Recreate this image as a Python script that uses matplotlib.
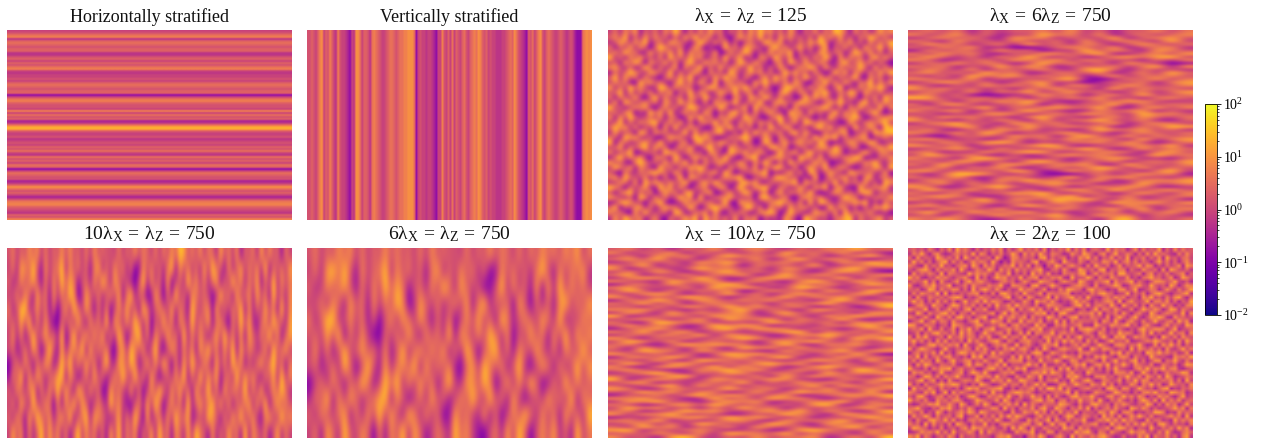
import numpy as np
import matplotlib
matplotlib.use("Agg")
import matplotlib.pyplot as plt
from matplotlib.cm import ScalarMappable
from matplotlib.colors import LogNorm, Normalize
from matplotlib.ticker import LogLocator, NullFormatter

plt.rcParams['font.family'] = ['Liberation Serif', 'DejaVu Serif']
plt.rcParams['mathtext.fontset'] = 'custom'
plt.rcParams['mathtext.rm'] = 'Liberation Serif'
plt.rcParams['mathtext.it'] = 'Liberation Serif'
plt.rcParams['mathtext.bf'] = 'Liberation Serif'

# log10 value of each digit used in the estimated grids below
LEVELS = [-1.1, -0.75, -0.4, -0.1, 0.15, 0.4, 0.65, 0.9, 1.2, 1.6]
LEVELS_BANDS = [-0.8, -0.5, -0.25, -0.05, 0.15, 0.35, 0.55, 0.75, 0.95, 1.25]
LEVELS_FINE = [-0.7, -0.4, -0.2, 0.0, 0.15, 0.3, 0.45, 0.65, 0.85, 1.1]

titles = ['Horizontally stratified', 'Vertically stratified',
          r'$\mathrm{\lambda_X\,=\,\lambda_Z\,=\,125}$',
          r'$\mathrm{\lambda_X\,=\,6\lambda_Z\,=\,750}$',
          r'$\mathrm{10\lambda_X\,=\,\lambda_Z\,=\,750}$',
          r'$\mathrm{6\lambda_X\,=\,\lambda_Z\,=\,750}$',
          r'$\mathrm{\lambda_X\,=\,10\lambda_Z\,=\,750}$',
          r'$\mathrm{\lambda_X\,=\,2\lambda_Z\,=\,100}$']

horizontal_bands = ("3467256545" "5224535467" "3233435654" "5503675443"
                    "7364512699" "5334234354" "6326453650" "3654412586"
                    "4531367754" "32547")
vertical_bands = ("4454357835" "4753274332" "1032886355" "4267654334"
                  "5665456677" "8886034332" "3321033743" "5363543564"
                  "3567687545" "3433222334" "5658643210" "5463578435"
                  "6543345432" "343100067878")

panel_3 = [
"362748153627495162738461537284957362841537264985173624857",
"574916283745162849375162048573926184735261947382516497362",
"248637591462875314962738150463297581426385971364825173649",
"615382740597346128503019462875316947258361490537261845927",
"473956128364829175642801735961428375906142873561497382615",
"926174835271946385714629358140762953814627395082746159384",
"351849607538271694285736149628430571962843751269358471620",
"784261395162480735916283574393615284037596184273649518273",
"163597428743916258407351962485726139584617302948175263849",
"592846173205738491362849571630482957163952847163592074613",
"374610958462159372841905736218594637285106493728416592738",
"826395741398274651259734685946172038956273841590327486951",
"459182637164805392761486392570834169427518693264971853624",
"617438205927346185394261075186395272401948573182640537196",
"280963574618529473160857492364912786359762148594317926485",
"935147682047361598427396125809473615082436795160748352917",
"462780319582914736185042793617258430967183524927581469302",
"718395246371650284936175842965103792584620319436795024678",
"349162758924738160574928316482756193471985762301842675793",
"596827143608192475301684927350619428605317948265193485098",
"283450971765324918264793150829473561792840163578024619789",
"641978325104876239785102648961385074135629487916357802463",
"907523684392415706936487251740296158368472950124863597124",
"358164792856037482179350864263518947024516783952471036859",
"724690135419862573408621975836740293681593427860315942673",
"169375820673195048562739410589126875309762814537698021547",
"845207963528374916073586248417395061946238570124853769326",
"396481752094616387951240736728064983170585392476102548719",
"510732648975284163746819502356790214827096148531976463280",
"682954371406129087325047689103462897451309027368250781564",
"237618095863745921684952317968215436790864253917463825097",
"974063582195827304571386049427893165238417690582109346782",
"415892637048561792368014725961470582657392014863527981453",
"863250971736249580912567843350896247104865732149760235648",
"128974305692013847456239108764135896527091983254687914073",
"590437826158762394038975412893607451846725019376140528796",
"746108293345098125671820536412789603954138762809365472130",
"283965714720634859194736281657042318620975341568917346825",
]

panel_4 = [
"46371625473826154736",
"73582614395728146357",
"25746318672543915684",
"64183527436182574293",
"38562471936275148536",
"52748130025763814672",
"17365284603294751864",
"63847215387469125738",
"48526173942613785893",
"75134628658275341627",
"26483751394726185301",
"64715293861354726918",
"37528164473289516342",
"58362947126548137295",
"42619578364713826574",
"76348152537910264836",
"25873614682402537168",
"63152847391762485347",
"84736251648351927463",
"36528174925836147258",
"57261012384615729346",
"98345627163748251674",
"24617385942136587423",
"61783245806254917365",
"47235916378649215837",
"73681524953127468152",
"35142786247386529674",
"62857341693415728536",
"84316275182569437215",
"26793518647234815763",
"53478162935748126498",
"47216385724139658362",
"75382961436825147536",
"31054628571694382745",
"68425137263847519268",
"42753896142567384136",
"86371524698213567492",
"24685173437596128375",
"57132846982346751684",
"39647215136857423956",
"73518964325146872315",
"46287351894263715648",
"62943178537682194537",
"35716482146359728264",
"78264539612847351693",
"41599732610036248571",
"63482157324917683425",
"27635184957248136768",
"54817362478561329457",
"86124795236137486213",
"39548261614872953684",
"62371548793265148527",
"47863125485916372356",
"73526917649794283461",
"25184736328541967838",
"68437215963724185264",
"41765382147636829157",
"59328647825143716483",
"36172584469328571642",
"74863125637451892536",
]

panel_5 = [
"4635475736354747453637454436354746536364759846473652846371546283745163",
"3628759417356927463516825374625017463526917463528396417258364729154638",
"5237468416273958614527396285341049273518035294736268153947264815392746",
"3462751846173649702853624738169253018405293517645302946183572846193527",
"6249924736150472963841526037483519624753826419536718253649172538461927",
"4538491627300536284174629185374962704384617529364815720639482157396428",
"3726149358462904925837481629504792617538461926374158394627185364927158",
"4513628503941826759183647105839647159203852637185946273918465237194683",
"0362741548613959273846159328749613827495061839527418362957142683794516",
"1649173852468917503628451374952946183025374916293758146293857316482937",
"5274368162749384196273501846328150374962748361834926183754926381475962",
"3618529437506174928513642957310462839504736192584693827154682739158464",
"5274183964725839146928753148263950814627395681243975162849357216843957",
"3847162593847261593746251839264715382946175283964172538461927536148263",
]

panel_6 = [
"4635475736354746453637454436354746536364756475836",
"3628959417356927463516825374625017463526941736582",
"5237468416273958614527396285340149273518082937463",
"3462751846173649702853624738169253608405251793648",
"6259924736150472863841526037483519624753862914375",
"4538490627300536284174629185374962704384617392847",
"3726149358462714925837481629504792617538426175394",
"4513629503941826759183647105839647159203861724938",
"0362741549613969273846159328749603827495016293745",
"2649173852468917503628451374952946183025384629175",
"5274368162749384196273501846328150374962736184529",
"3618529437506174928513642957310462839504748251936",
]

panel_7 = [
"47261638257426375946",
"72548163527194638251",
"36185724956382714693",
"58392617438159276304",
"24736185926473518496",
"63915274807362914578",
"81462395736185247923",
"37285146936274158630",
"59143726581493672458",
"26874395126875439172",
"74319568247316952864",
"15628437961528473396",
"68342719586239741625",
"39517264803746185297",
"52786143927158643781",
"84263975146392758416",
"17495286374825169343",
"63928147536174692578",
"45172863948357126039",
"76834152692641873524",
"28519374681493526187",
"91346528773265184965",
"35762481956817439212",
"62198573342956371848",
"48375129687134265793",
"15684237938762541476",
"73926815423589174628",
"26457391864127695383",
"84163725597346281959",
"39728146351685943726",
"57214968762493175834",
"61835274196728346415",
"42976185342183659278",
"85362714978546172930",
"17649523682791438465",
"64283197546324875192",
"39517842637958146327",
"72168539284613795546",
"58431276958237461983",
"24795163872564193768",
"63248915437192856324",
"91576328654873216549",
"37814256391628475183",
"52469183726354918637",
"86127534945716382476",
"43958276138249675291",
"15372694863581247859",
"76845129372967314526",
"28693415858134769173",
"64127839546252891367",
"39582617294716354682",
"57134968336849275139",
"82769345125396418746",
"14256783968527143695",
"67391524773184659238",
"35827196442973186574",
"52948163718536247916",
"89163574235128964375",
"46375281976492735184",
"73518942638365814729",
]

panel_8 = [
"463527416382957416253748162593647281536492738156429375614827354916283745",
"275941683125746392861537249618473952764128539741682593475162839564217384",
"618354297463819527346195028736451892635714286937154826391547263819452673",
"394726158927361485762940318564279136841953274165387492683726415937261584",
"752183649341578296184723659273816405397268541729536148254693871426358197",
"426895173658294137539618472846357921562841397362891547716328546181974362",
"183647529176432958674285391526194738231756489148365729943571682537246815",
"957214386742568319261497835392678154768219345961742853382416795625813974",
"364592718325816947853126746148523976415864297326579184579263148874693251",
"821476935691347285437569218764189325963125786418235697126784395352961487",
"546139827458726193796384152395762481327498651795641328835912476148527369",
"273865491914253678142718963629435817656781324274896513492637158963145792",
"618327546368971425865243791471862359183579462932157486724518693527389416",
"495716283726149358394875126238519674841326957415368729168435927748261539",
"137842965159836472617294583956427138765214893826753941953726184395614278",
"864591372483527916582163479173694825294687135149276385237149658614982753",
"329617458947165283436815927625348791518942376683915472841573296257643918",
"752483196372894615791249368468173529736158924375428169526931487972185634",
"146925837628431579254976183293764815392817465547186293168427359436729581",
"983276514519763248823548716846329571175834682219643875793516842158364297",
"465819327248175936167923584751486923643529178985371426314279568872591346",
"237164895637294851495367281382917645926746315741862539675148392524936718",
"718593246194583762748215936639254178458172693362594187923867415196372854",
"594726183825361947326894175167843529273958461837126945481235769743618295",
"361248957476819325951476832925731486691425738524963178736594128285947163",
"826975314932547618483152769378416295137864592196387524519286473618325947",
"157364829251698473672938541546279813864523176753241869274351986957462381",
"649182573783425196915764328293815647325976481428695317861743295342186759",
"372856194169347825384259167781642935596138724674182593537926148816594273",
"518497326547216938726583914436957182243715869137849265952864371275361498",
"943261758892573461158946273869124576718492635582617394321685947694782135",
"286735149324681597493125768215378694975268341964325187748139526137456982",
"651498372756942318867394521742863915346187952317784526595472863829613475",
"437926815183257649512867394398541726682419537951276348164938725465827193",
"825173469679834152974125836627359481127835964286493715238617594713964528",
"194638527342516978346789215154682739959273146743518962872496351589132647",
"763285914918475326682934157986741352465691823138652497341527869452986713",
"528941367264713895127568493273495618273148956694227835957386142867315924",
"946372185637851249753482961541268937816725394572931648425169738193748256",
"312658794485296137396127584819374265549863172389646175863254971628571493",
"679421538794263851245871936165482793297516483916257384319748625234695817",
"853714296153684972974356218238659471728364915442873961786132549971328465",
"284596173562791348163728495974215836461598237635194728148596372346857192",
"517328964938241675846395127621847359184273659214769583957421836623194758",
"746192835271974163392416875358726914937815426578231946273849561895263417",
"398651427145268397755732619496183275352967184623458179846154293264739581",
"124867593729345861928546312857691428715342968941762853159678342739412685",
"869275146386173452543168793230574961268419375475896312623285917548361792",
]


def decode(rows, levels):
    n = min(len(r) for r in rows)
    return np.array([[levels[int(c)] for c in r[:n]] for r in rows])


panels = [(decode(list(horizontal_bands), LEVELS_BANDS), 'bilinear'),
          (decode([vertical_bands], LEVELS_BANDS), 'bilinear'),
          (decode(panel_3, LEVELS), 'bicubic'), (decode(panel_4, LEVELS), 'bicubic'),
          (decode(panel_5, LEVELS), 'bicubic'), (decode(panel_6, LEVELS), 'bicubic'),
          (decode(panel_7, LEVELS), 'bicubic'), (decode(panel_8, LEVELS_FINE), 'bilinear')]

W, H = 1261, 441
fig = plt.figure(figsize=(W / 100, H / 100), dpi=100)
lefts = [7, 307, 608, 908]
tops = [30, 248]
pw, ph = 284.5, 190
log_norm = Normalize(-2, 2)

for i, (data, interp) in enumerate(panels):
    l = lefts[i % 4]
    t = tops[i // 4]
    ax = fig.add_axes([l / W, 1 - (t + ph) / H, pw / W, ph / H])
    ax.imshow(data, cmap='plasma', norm=log_norm, aspect='auto',
              interpolation=interp, interpolation_stage='data')
    ax.axis('off')
    size = 13 if i < 2 else 14
    ax.text(0.5, 1.02, titles[i], transform=ax.transAxes, ha='center', va='bottom',
            fontsize=size, color='#111111')

cax = fig.add_axes([1205 / W, 1 - 315 / H, 12 / W, 211 / H])
cb = fig.colorbar(ScalarMappable(norm=LogNorm(1e-2, 1e2), cmap='plasma'), cax=cax)
cb.ax.yaxis.set_major_locator(LogLocator(base=10, numticks=6))
cb.ax.yaxis.set_minor_locator(LogLocator(base=10, subs=np.arange(2, 10), numticks=12))
cb.ax.yaxis.set_minor_formatter(NullFormatter())
cb.ax.tick_params(which='major', length=3, width=0.6, labelsize=10, pad=1.5)
cb.ax.tick_params(which='minor', length=1.5, width=0.5)
cb.outline.set_linewidth(0.6)

fig.savefig('out.png', dpi=100)
